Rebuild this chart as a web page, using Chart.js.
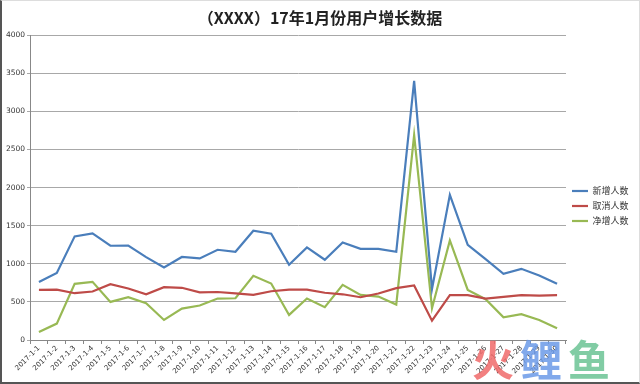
<!DOCTYPE html>
<html>
<head>
<meta charset="utf-8">
<script src="https://cdn.jsdelivr.net/npm/chart.js@4/dist/chart.umd.min.js"></script>
<style>
html,body{margin:0;padding:0;background:#fff;}
#wrap{position:relative;width:640px;height:384px;}
#frame{position:absolute;left:0;top:0;width:640px;height:384px;box-sizing:border-box;border-left:2px solid #555;border-bottom:2px solid #555;border-top:1px solid #ddd;border-right:1px solid #ddd;pointer-events:none;}
#wm{position:absolute;left:472px;top:334px;font-family:"Noto Sans CJK SC";font-weight:bold;font-size:42px;line-height:48px;letter-spacing:6px;opacity:0.85;pointer-events:none;}
</style>
</head>
<body>
<div id="wrap">
<canvas id="c" width="640" height="384"></canvas>
<div id="frame"></div>
<div id="wm"><span style="color:#f06a6a">火</span><span style="color:#6b9ae8">鲤</span><span style="color:#6cc495">鱼</span></div>
</div>
<script>
const titleText = "（XXXX）17年1月份用户增长数据";
const categories = ["2017-1-1","2017-1-2","2017-1-3","2017-1-4","2017-1-5","2017-1-6","2017-1-7","2017-1-8","2017-1-9","2017-1-10","2017-1-11","2017-1-12","2017-1-13","2017-1-14","2017-1-15","2017-1-16","2017-1-17","2017-1-18","2017-1-19","2017-1-20","2017-1-21","2017-1-22","2017-1-23","2017-1-24","2017-1-25","2017-1-26","2017-1-27","2017-1-28","2017-1-29","2017-1-30"];
const seriesNames = ["新增人数","取消人数","净增人数"];
const newUsers = [760,880,1360,1400,1237,1240,1088,951,1090,1070,1184,1158,1434,1395,987,1215,1053,1280,1197,1195,1158,3400,671,1904,1250,1060,868,934,846,737];
const cancelUsers = [658,662,614,636,733,676,600,693,685,626,630,612,592,640,662,662,620,600,561,610,680,715,254,588,588,544,566,588,583,588];
const netUsers = [105,215,737,763,500,561,482,263,412,452,544,548,842,741,329,544,430,724,592,570,465,2690,417,1307,658,535,298,338,263,154];
const yTicks = [0,500,1000,1500,2000,2500,3000,3500,4000];
const colors = ["#4a7ebb","#be4b48","#98b954"];

const legendWidth = {
  id:'legendWidth',
  afterInit(chart){
    const lg = chart.legend;
    const orig = lg.fit;
    lg.fit = function(){ orig.call(this); this.width = 74; };
    const origDraw = lg.draw;
    lg.draw = function(){
      this.top += 14; this.bottom += 14;
      origDraw.apply(this, arguments);
      this.top -= 14; this.bottom -= 14;
    };
  }
};

new Chart(document.getElementById('c'), {
  type:'line',
  data:{
    labels:categories,
    datasets:[newUsers,cancelUsers,netUsers].map((d,i)=>({
      label:seriesNames[i], data:d, borderColor:colors[i], backgroundColor:colors[i],
      borderWidth:2.2, pointRadius:0, tension:0, fill:false
    }))
  },
  plugins:[legendWidth],
  options:{
    responsive:false, animation:false,
    layout:{padding:{left:0,right:0,top:0,bottom:0}},
    plugins:{
      title:{display:true,text:titleText,color:'#222',
        font:{family:'"Noto Sans CJK SC"',size:16,weight:'bold'},padding:{top:8,bottom:8}},
      legend:{position:'right',align:'center',
        labels:{usePointStyle:true,pointStyle:'line',pointStyleWidth:16,boxHeight:9,padding:6,
          color:'#333',font:{family:'"Noto Sans CJK SC"',size:9}}},
      tooltip:{enabled:false}
    },
    scales:{
      x:{offset:true,
        grid:{offset:true,drawOnChartArea:false,drawTicks:true,tickLength:4,color:'#888'},
        border:{color:'#888'},
        ticks:{maxRotation:45,minRotation:45,autoSkip:false,padding:0,color:'#333',
          font:{family:'"DejaVu Sans"',size:7}},
        afterFit(s){s.height=44;}
      },
      y:{min:0,max:4000,
        afterBuildTicks(s){s.ticks=yTicks.map(v=>({value:v}));},
        grid:{color:'#a8a8a8',tickLength:3,drawTicks:true},
        border:{color:'#888'},
        ticks:{padding:2,color:'#333',font:{family:'"DejaVu Sans"',size:7.5},callback:v=>String(v)},
        afterFit(s){s.width=30;}
      }
    }
  }
});
</script>
</body>
</html>
